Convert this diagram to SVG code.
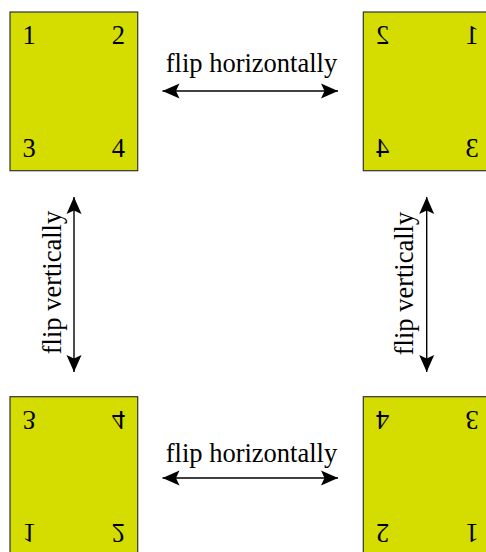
<svg xmlns="http://www.w3.org/2000/svg" width="486" height="552" viewBox="0 0 486 552">
<defs>
<style>
.sq{fill:#d4dc00;stroke:#333;stroke-width:1.2}
.num{font-family:"Liberation Serif","Times New Roman",serif;font-size:26.5px;fill:#000;text-anchor:middle}
.lbl{font-family:"Liberation Serif","Times New Roman",serif;font-size:26.5px;fill:#000;text-anchor:middle}
.arr{stroke:#000;stroke-width:1.4;fill:none;marker-start:url(#ah);marker-end:url(#ah)}
</style>
<marker id="ah" markerUnits="userSpaceOnUse" markerWidth="20" markerHeight="16" refX="17" refY="7.5" orient="auto-start-reverse" overflow="visible">
<path d="M0,0 L17,7.5 L0,15 L3.5,7.5 z" fill="#000"/>
</marker>
</defs>
<rect width="486" height="552" fill="#fff"/>
<g id="original">
<rect class="sq" x="10" y="12" width="127.7" height="158.7"/>
<text class="num" x="29" y="43.7">1</text>
<text class="num" x="118.3" y="43.7">2</text>
<text class="num" x="29" y="156.7">3</text>
<text class="num" x="118.3" y="156.7">4</text>
</g>
<g id="flipped-h" transform="matrix(-1 0 0 1 501 0)">
<rect class="sq" x="10" y="12" width="127.7" height="158.7"/>
<text class="num" x="29" y="43.7">1</text>
<text class="num" x="118.3" y="43.7">2</text>
<text class="num" x="29" y="156.7">3</text>
<text class="num" x="118.3" y="156.7">4</text>
</g>
<g id="flipped-v" transform="matrix(1 0 0 -1 0 567.4)">
<rect class="sq" x="10" y="12" width="127.7" height="158.7"/>
<text class="num" x="29" y="43.7">1</text>
<text class="num" x="118.3" y="43.7">2</text>
<text class="num" x="29" y="156.7">3</text>
<text class="num" x="118.3" y="156.7">4</text>
</g>
<g id="flipped-hv" transform="matrix(-1 0 0 -1 501 567.4)">
<rect class="sq" x="10" y="12" width="127.7" height="158.7"/>
<text class="num" x="29" y="43.7">1</text>
<text class="num" x="118.3" y="43.7">2</text>
<text class="num" x="29" y="156.7">3</text>
<text class="num" x="118.3" y="156.7">4</text>
</g>
<g id="connectors">
<line class="arr" x1="162.5" y1="91" x2="338" y2="91"/>
<line class="arr" x1="162.5" y1="478" x2="338" y2="478"/>
<line class="arr" x1="74" y1="197" x2="74" y2="372"/>
<line class="arr" x1="426.7" y1="197" x2="426.7" y2="372"/>
</g>
<g id="labels">
<text class="lbl" x="251.5" y="72">flip horizontally</text>
<text class="lbl" x="251.5" y="461.5">flip horizontally</text>
<text class="lbl" transform="translate(60.5 282.5) rotate(-90)">flip vertically</text>
<text class="lbl" transform="translate(413 283.5) rotate(-90)">flip vertically</text>
</g>
</svg>
